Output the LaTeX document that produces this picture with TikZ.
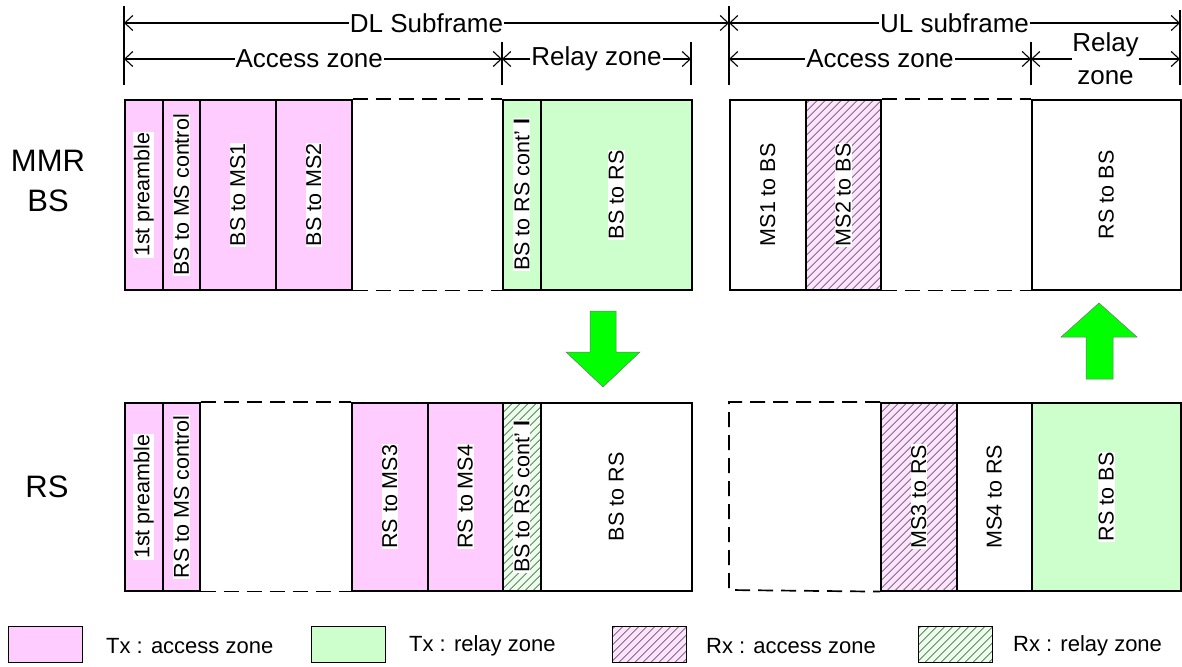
\documentclass[tikz,border=0pt]{standalone}
\usepackage{fontspec}
\setmainfont{Liberation Sans}
\usetikzlibrary{arrows.meta}
\definecolor{pinkc}{HTML}{FFCCFF}
\definecolor{greenc}{HTML}{CCFFCC}
\definecolor{pinkl}{HTML}{FFE2FF}
\definecolor{greenl}{HTML}{E8FFE8}
\definecolor{arrg}{HTML}{00FF00}
\definecolor{hatchc}{HTML}{606060}
\tikzset{
  cell/.style={draw=black, line width=1.6pt, inner sep=0pt, anchor=north west},
  toprow/.style={cell, minimum height=190pt},
  botrow/.style={cell, minimum height=188pt},
  hatchbase/.style={path picture={
      \foreach \k in {-210,-202,...,90}{
        \draw[hatchc, line width=0.7pt] ([xshift=\k pt]path picture bounding box.south west) -- ++(240pt,240pt);}}},
  hpink/.style={fill=pinkl, hatchbase},
  hgreen/.style={fill=greenl, hatchbase},
  lbl/.style={rotate=90, fill=white, inner sep=0.6pt, font=\fontsize{21.5}{25}\selectfont},
  dashline/.style={line width=1.7pt, dash pattern=on 15pt off 8pt},
  dim/.style={line width=1.1pt, {Straight Barb[length=8pt,width=15pt]}-{Straight Barb[length=8pt,width=15pt]}},
  dimtxt/.style={fill=white, inner sep=1pt, font=\fontsize{26}{30}\selectfont},
  tick/.style={line width=1.2pt},
  bigarrow/.style={fill=arrg, draw=black!55, line width=0.5pt},
  side/.style={font=\fontsize{31}{40}\selectfont, align=center},
  legbox/.style={draw=black, line width=1.3pt, minimum width=74pt, minimum height=36pt, inner sep=0pt, anchor=north west},
  legtxt/.style={anchor=west, inner sep=0pt, font=\fontsize{22}{26}\selectfont},
}
\begin{document}
\begin{tikzpicture}[x=1pt,y=-1pt]
\useasboundingbox (0,0) rectangle (1182,666);

% ---------- top dimension lines ----------
\coordinate (t124a) at (124,6);   \coordinate (t124b) at (124,85);
\coordinate (t729a) at (729,6);   \coordinate (t729b) at (729,85);
\coordinate (t1180a) at (1180,10); \coordinate (t1180b) at (1180,85);
\coordinate (t502a) at (502,42);  \coordinate (t502b) at (502,85);
\coordinate (t691a) at (691,42);  \coordinate (t691b) at (691,85);
\coordinate (t1031a) at (1031,42); \coordinate (t1031b) at (1031,85);
\foreach \c in {124,729,1180,502,691,1031}{\draw[tick] (t\c a) -- (t\c b);}

\coordinate (dl1) at (124,23); \coordinate (dl2) at (729,23); \coordinate (ul2) at (1180,23);
\coordinate (az1) at (124,59); \coordinate (az2) at (502,59); \coordinate (rz2) at (691,59);
\coordinate (uaz1) at (729,59); \coordinate (uaz2) at (1031,59); \coordinate (urz2) at (1180,59);

\draw[dim] (dl1) -- node[dimtxt] (dltxt) {DL Subframe} (dl2);
\draw[dim] (dl2) -- node[dimtxt] (ultxt) {UL subframe} (ul2);
\draw[dim] (az1) -- node[dimtxt, pos=0.49] (aztxt) {Access zone} (az2);
\draw[dim] (az2) -- node[dimtxt] (rztxt) {Relay zone} (rz2);
\draw[dim] (uaz1) -- node[dimtxt] (uaztxt) {Access zone} (uaz2);
\draw[dim] (uaz2) -- node[dimtxt, align=center, inner sep=0pt, font=\fontsize{26}{33}\selectfont] (urztxt) {Relay\\zone} (urz2);

% ---------- side labels ----------
\node[side] (mmr) at (48,181) {MMR\\BS};
\node[side] (rs) at (47,487) {RS};

% ---------- top row (MMR BS) ----------
\node[toprow, fill=pinkc, minimum width=38pt] (a1) at (124,99) {};
\node[toprow, fill=pinkc, minimum width=37pt] (a2) at (162,99) {};
\node[toprow, fill=pinkc, minimum width=76pt] (a3) at (199,99) {};
\node[toprow, fill=pinkc, minimum width=76pt] (a4) at (275,99) {};
\node[toprow, fill=greenc, minimum width=38pt] (a5) at (502,99) {};
\node[toprow, fill=greenc, minimum width=151pt] (a6) at (540,99) {};
\node[toprow, fill=white, minimum width=76pt] (a7) at (729,99) {};
\node[toprow, hpink, minimum width=75pt] (a8) at (805,99) {};
\node[toprow, fill=white, minimum width=149pt] (a9) at (1031,99) {};
\draw[dashline] (a4.north east) -- (a5.north west);
\draw[dashline] (a4.south east) -- (a5.south west);
\draw[dashline] (a8.north east) -- (a9.north west);
\draw[dashline] (a8.south east) -- (a9.south west);

\node[lbl] (la1) at (a1) {1st preamble};
\node[lbl] (la2) at (a2) {BS to MS control};
\node[lbl] (la3) at (a3) {BS to MS1};
\node[lbl] (la4) at (a4) {BS to MS2};
\node[lbl] (la5) at (a5) {BS to RS cont’ \textbf{l}};
\node[lbl] (la6) at (a6) {BS to RS};
\node[lbl] (la7) at (a7) {MS1 to BS};
\node[lbl] (la8) at (a8) {MS2 to BS};
\node[lbl] (la9) at (a9) {RS to BS};

% ---------- bottom row (RS) ----------
\node[botrow, fill=pinkc, minimum width=38pt] (b1) at (124,402) {};
\node[botrow, fill=pinkc, minimum width=37pt] (b2) at (162,402) {};
\node[botrow, fill=pinkc, minimum width=76pt] (b3) at (351,402) {};
\node[botrow, fill=pinkc, minimum width=75pt] (b4) at (427,402) {};
\node[botrow, hgreen, minimum width=38pt] (b5) at (502,402) {};
\node[botrow, fill=white, minimum width=151pt] (b6) at (540,402) {};
\node[botrow, hpink, minimum width=76pt] (b7) at (880,402) {};
\node[botrow, fill=white, minimum width=75pt] (b8) at (956,402) {};
\node[botrow, fill=greenc, minimum width=149pt] (b9) at (1031,402) {};
\draw[dashline] (b2.north east) -- (b3.north west);
\draw[dashline] (b2.south east) -- (b3.south west);
\coordinate (ulbt) at (729,402); \coordinate (ulbb) at (729,590);
\draw[dashline] (b7.north west) -- (ulbt) -- (ulbb) -- (b7.south west);

\node[lbl] (lb1) at (b1) {1st preamble};
\node[lbl] (lb2) at (b2) {RS to MS control};
\node[lbl] (lb3) at (b3) {RS to MS3};
\node[lbl] (lb4) at (b4) {RS to MS4};
\node[lbl] (lb5) at (b5) {BS to RS cont’ \textbf{l}};
\node[lbl] (lb6) at (b6) {BS to RS};
\node[lbl] (lb7) at (b7) {MS3 to RS};
\node[lbl] (lb8) at (b8) {MS4 to RS};
\node[lbl] (lb9) at (b9) {RS to BS};

% ---------- green arrows ----------
\draw[bigarrow] (590,311) -- (616,311) -- (616,352) -- (640,352) -- (603,387) -- (566,352) -- (590,352) -- cycle;
\draw[bigarrow] (1086,379) -- (1113,379) -- (1113,337) -- (1137,337) -- (1099,303) -- (1061,337) -- (1086,337) -- cycle;

% ---------- legend ----------
\node[legbox, fill=pinkc] (k1) at (8,626) {};
\node[legtxt] (k1t) at (106,646) {Tx : access zone};
\node[legbox, fill=greenc] (k2) at (311,626) {};
\node[legtxt] (k2t) at (409,646) {Tx : relay zone};
\node[legbox, hpink] (k3) at (612,626) {};
\node[legtxt] (k3t) at (706,646) {Rx : access zone};
\node[legbox, hgreen] (k4) at (918,626) {};
\node[legtxt] (k4t) at (1013,646) {Rx : relay zone};
\end{tikzpicture}
\end{document}
